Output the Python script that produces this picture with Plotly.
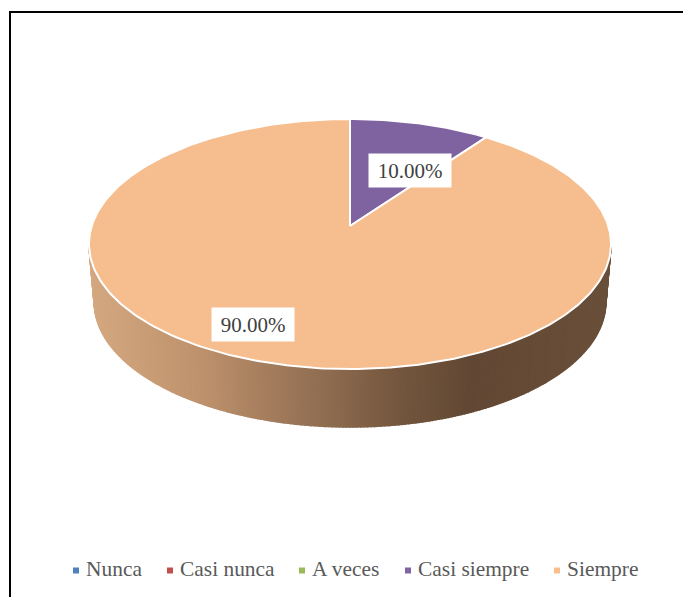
import numpy as np
import plotly.graph_objects as go

categories = ["Nunca", "Casi nunca", "A veces", "Casi siempre", "Siempre"]
values = [0, 0, 0, 10, 90]
colors = ["#4F81BD", "#C0504D", "#9BBB59", "#7F63A1", "#F6BD8E"]
legend_colors = ["#4F81BD", "#C0504D", "#9BBB59", "#8064A2", "#F9BE8F"]
legend_x = [76, 170, 302, 408, 557]

CX, CY, A, B, K = 350, 226, 258.3, 122.4, 0.144
DEPTH, SHRINK = 58, 0.98


def project(theta):
    u, v = np.sin(theta), np.cos(theta)
    w = 1 + K * v
    return CX + A * u / w, CY - B * v / w


def lower(theta):
    x, y = project(theta)
    return CX + (x - CX) * SHRINK, y + DEPTH


def side_color(x):
    xs = [90, 200, 300, 400, 470, 610]
    r = [212, 190, 152, 115, 98, 106]
    g = [168, 146, 116, 86, 72, 80]
    b = [128, 108, 86, 62, 52, 58]
    return f"rgb({np.interp(x, xs, r):.0f},{np.interp(x, xs, g):.0f},{np.interp(x, xs, b):.0f})"


fig = go.Figure()

# front wall of the disc, as narrow shaded strips
edges = np.linspace(np.arccos(-K), 2 * np.pi - np.arccos(-K), 241)
for a, b in zip(edges[:-1], edges[1:]):
    ts = np.array([a, b])
    xt, yt = project(ts)
    xl, yl = lower(ts)
    xs = np.r_[xt, xl[::-1], xt[0]]
    ys = np.r_[yt, yl[::-1], yt[0]]
    col = side_color(xs.mean())
    fig.add_trace(go.Scatter(x=xs, y=ys, mode="lines", fill="toself", fillcolor=col,
                             line=dict(color=col, width=1.5), hoverinfo="skip", showlegend=False))

# top face: wedges from the values
total = sum(values)
start = 0.0
for name, val, col in zip(categories, values, colors):
    if val > 0:
        ts = np.linspace(start, start + val / total * 2 * np.pi, max(3, int(val * 4)))
        xe, ye = project(ts)
        fig.add_trace(go.Scatter(x=np.r_[CX, xe, CX], y=np.r_[CY, ye, CY], mode="lines",
                                 fill="toself", fillcolor=col, name=name,
                                 line=dict(color="white", width=2), showlegend=False))
    start += val / total * 2 * np.pi

# legend row
for name, col, lx in zip(categories, legend_colors, legend_x):
    fig.add_trace(go.Scatter(x=[lx], y=[570.5], mode="markers+text", text=["\u00a0" + name],
                             textposition="middle right", name=name,
                             marker=dict(symbol="square", size=6, color=col),
                             textfont=dict(family="Liberation Serif", size=21.4, color="#595959"),
                             showlegend=False))

fig.add_shape(type="line", x0=10, x1=10, y0=597, y1=12, line=dict(color="black", width=2))
fig.add_shape(type="line", x0=9, x1=683, y0=12, y1=12, line=dict(color="black", width=2))

for val, px, py in zip(values[3:], (410, 253), (170.5, 324.5)):
    fig.add_annotation(x=px, y=py, text=f"{val:.2f}%", showarrow=False, bgcolor="white",
                       width=74, height=25, borderpad=4,
                       font=dict(family="Liberation Serif", size=21, color="#404040"))

fig.update_layout(
    width=683, height=597, margin=dict(l=0, r=0, t=0, b=0),
    paper_bgcolor="white", plot_bgcolor="white", showlegend=False,
    xaxis=dict(range=[0, 683], visible=False, fixedrange=True),
    yaxis=dict(range=[597, 0], visible=False, fixedrange=True),
)
fig.write_html("out.html", config=dict(displayModeBar=False),
               post_script="document.body.style.margin='0';document.documentElement.style.overflow='hidden';")
